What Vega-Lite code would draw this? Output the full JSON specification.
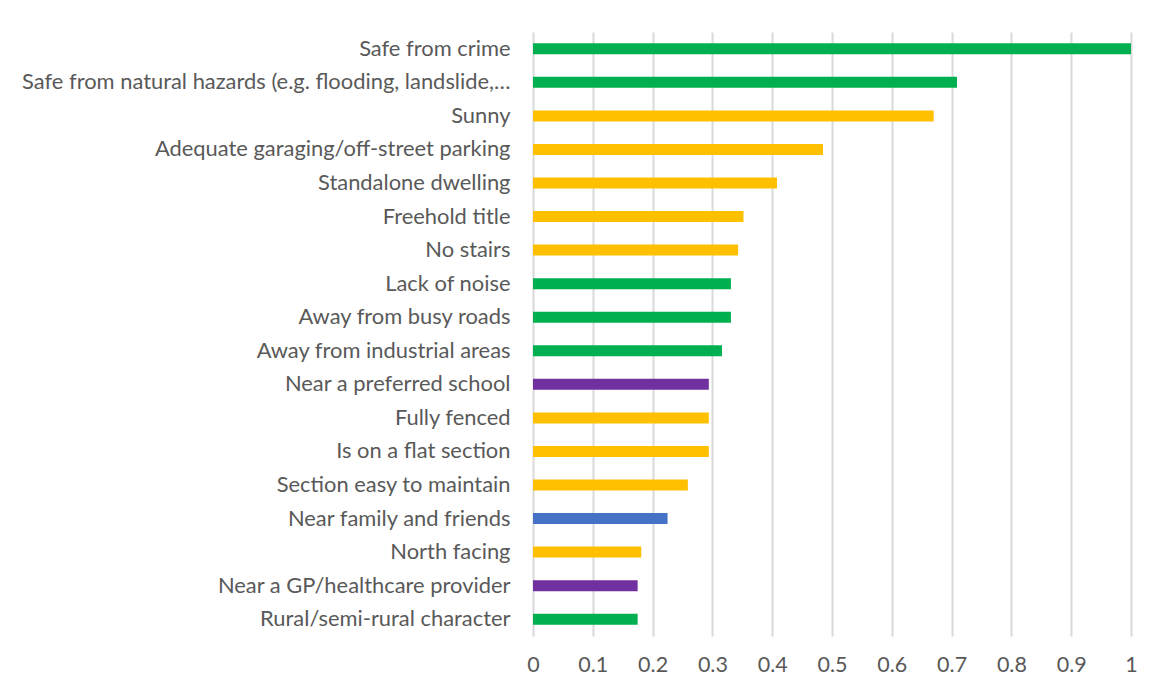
{
  "$schema": "https://vega.github.io/schema/vega-lite/v6.json",
  "autosize": "none",
  "width": 598,
  "height": 604,
  "padding": {"left": 533, "top": 32, "right": 35, "bottom": 61},
  "background": "white",
  "config": {"view": {"stroke": null}},
  "data": {
    "values": [
      {"item": "Safe from crime", "value": 1.0, "group": "Safety"},
      {"item": "Safe from natural hazards (e.g. flooding, landslide,…", "value": 0.709, "group": "Safety"},
      {"item": "Sunny", "value": 0.67, "group": "Property"},
      {"item": "Adequate garaging/off-street parking", "value": 0.485, "group": "Property"},
      {"item": "Standalone dwelling", "value": 0.408, "group": "Property"},
      {"item": "Freehold title", "value": 0.352, "group": "Property"},
      {"item": "No stairs", "value": 0.343, "group": "Property"},
      {"item": "Lack of noise", "value": 0.331, "group": "Safety"},
      {"item": "Away from busy roads", "value": 0.331, "group": "Safety"},
      {"item": "Away from industrial areas", "value": 0.316, "group": "Safety"},
      {"item": "Near a preferred school", "value": 0.294, "group": "Amenity"},
      {"item": "Fully fenced", "value": 0.294, "group": "Property"},
      {"item": "Is on a flat section", "value": 0.294, "group": "Property"},
      {"item": "Section easy to maintain", "value": 0.259, "group": "Property"},
      {"item": "Near family and friends", "value": 0.225, "group": "Social"},
      {"item": "North facing", "value": 0.181, "group": "Property"},
      {"item": "Near a GP/healthcare provider", "value": 0.175, "group": "Amenity"},
      {"item": "Rural/semi-rural character", "value": 0.175, "group": "Safety"}
    ]
  },
  "mark": {"type": "bar", "size": 11},
  "encoding": {
    "y": {
      "field": "item",
      "type": "nominal",
      "sort": null,
      "axis": {
        "title": null,
        "domain": false,
        "ticks": false,
        "grid": false,
        "labelPadding": 23,
        "labelLimit": 600,
        "labelFont": "Lato",
        "labelFontSize": 21.9,
        "labelColor": "#595959"
      }
    },
    "x": {
      "field": "value",
      "type": "quantitative",
      "scale": {"domain": [0, 1], "nice": false},
      "axis": {
        "title": null,
        "values": [0, 0.1, 0.2, 0.3, 0.4, 0.5, 0.6, 0.7, 0.8, 0.9, 1],
        "format": "~g",
        "domain": false,
        "ticks": false,
        "grid": true,
        "gridColor": "#d9d9d9",
        "gridWidth": 2,
        "labelPadding": 18,
        "labelFont": "Lato",
        "labelFontSize": 21.5,
        "labelColor": "#595959",
        "labelFlush": false
      }
    },
    "color": {
      "field": "group",
      "type": "nominal",
      "scale": {
        "domain": ["Safety", "Property", "Amenity", "Social"],
        "range": ["#00b050", "#ffc000", "#7030a0", "#4472c4"]
      },
      "legend": null
    }
  }
}
